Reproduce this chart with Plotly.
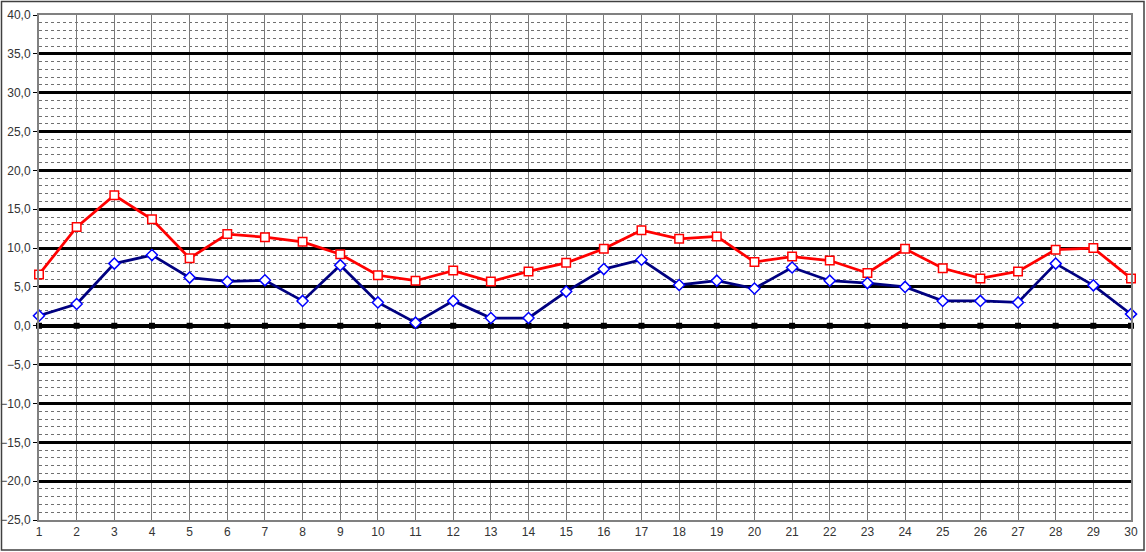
import plotly.graph_objects as go

days = list(range(1, 31))
red_values = [6.6, 12.7, 16.8, 13.7, 8.7, 11.8, 11.4, 10.8, 9.2, 6.5,
              5.8, 7.1, 5.7, 7.0, 8.1, 9.9, 12.3, 11.2, 11.5, 8.2,
              8.9, 8.4, 6.8, 9.9, 7.4, 6.1, 7.0, 9.8, 10.0, 6.1]
blue_values = [1.3, 2.8, 8.0, 9.1, 6.2, 5.7, 5.85, 3.2, 7.8, 3.0,
               0.4, 3.2, 1.0, 1.0, 4.4, 7.3, 8.5, 5.25, 5.8, 4.8,
               7.5, 5.8, 5.5, 5.0, 3.2, 3.2, 3.0, 8.0, 5.2, 1.5]
zero_values = [0.0] * 30
y_ticks = list(range(-25, 45, 5))

fig = go.Figure()

fig.add_trace(go.Scatter(
    x=days, y=zero_values, mode="markers",
    marker=dict(symbol="square", size=6, color="black"),
    showlegend=False, hoverinfo="skip", cliponaxis=False))

fig.add_trace(go.Scatter(
    x=days, y=red_values, mode="lines+markers",
    line=dict(color="#FF0000", width=2.75),
    marker=dict(symbol="square", size=8.5, color="white",
                line=dict(color="#FF0000", width=1.5)),
    showlegend=False, cliponaxis=False))

fig.add_trace(go.Scatter(
    x=days, y=blue_values, mode="lines+markers",
    line=dict(color="#000080", width=2.75),
    marker=dict(symbol="diamond", size=8.5, color="white",
                line=dict(color="#0000FF", width=1.5)),
    showlegend=False, cliponaxis=False))

L, R, T, B = 39, 15, 15, 32
W, H = 1146, 552
pw, ph = W - L - R, H - T - B

# outer frame of the chart
fig.add_shape(type="rect", xref="paper", yref="paper",
              x0=(1.5 - L) / pw, x1=(W - 2 - L) / pw,
              y0=-(H - 2 - (H - B)) / ph, y1=1 + (T - 1.5) / ph,
              line=dict(color="#404040", width=1.5), fillcolor="rgba(0,0,0,0)",
              layer="above")

fig.update_layout(
    width=W, height=H,
    margin=dict(l=L, r=R, t=T, b=B, autoexpand=False),
    paper_bgcolor="white", plot_bgcolor="white",
    separators=",.",
    font=dict(family="Liberation Sans, Arial, sans-serif", size=12, color="#333333"),
    xaxis=dict(
        range=[1, 30], tickmode="array", tickvals=days,
        ticktext=[str(d) for d in days],
        showgrid=True, gridcolor="#7a7a7a", gridwidth=1.3,
        zeroline=False, automargin=False,
        showline=True, linecolor="#808080", linewidth=2, mirror=True,
        ticks="",
    ),
    yaxis=dict(
        range=[-25, 40], tickmode="array", tickvals=y_ticks,
        tickformat=".1f", automargin=False,
        showgrid=True, gridcolor="black", gridwidth=2.5,
        zeroline=True, zerolinecolor="black", zerolinewidth=4,
        showline=True, linecolor="#808080", linewidth=2, mirror=True,
        ticks="outside", ticklen=4, tickcolor="black",
        minor=dict(dtick=1, tick0=0, showgrid=True, gridcolor="#707070",
                   gridwidth=1, griddash="dot", ticks=""),
    ),
)

fig.write_html("out.html", config={"displayModeBar": False},
               post_script="document.body.style.margin='0';document.body.style.overflow='hidden';")
